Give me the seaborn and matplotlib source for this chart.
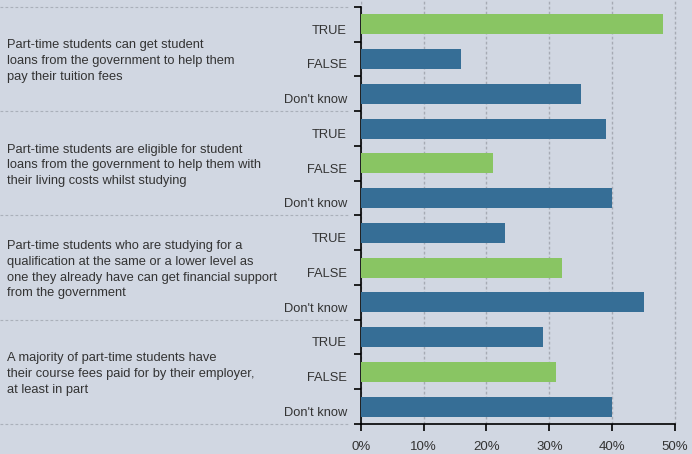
import matplotlib
matplotlib.use("Agg")
import matplotlib.pyplot as plt
import matplotlib.transforms as mtransforms
from matplotlib.ticker import FixedLocator, FuncFormatter
import seaborn as sns
import pandas as pd

# Survey statements (wrapped as displayed) and answer options
statements = [
    "Part-time students can get student\nloans from the government to help them\npay their tuition fees",
    "Part-time students are eligible for student\nloans from the government to help them with\ntheir living costs whilst studying",
    "Part-time students who are studying for a\nqualification at the same or a lower level as\none they already have can get financial support\nfrom the government",
    "A majority of part-time students have\ntheir course fees paid for by their employer,\nat least in part",
]
answers = ["TRUE", "FALSE", "Don't know"]

# Share of respondents (%) per statement: TRUE, FALSE, Don't know
true_pct = [48, 39, 23, 29]
false_pct = [16, 21, 32, 31]
dont_know_pct = [35, 40, 45, 40]

# Correct answer for each statement
correct_answer = ["TRUE", "FALSE", "FALSE", "FALSE"]

x_ticks = [0, 10, 20, 30, 40, 50]

BG = "#d1d7e2"
GREEN = "#89c563"
BLUE = "#366e96"
TEXT = "#333333"

rows = []
for i, stmt in enumerate(statements):
    vals = [true_pct[i], false_pct[i], dont_know_pct[i]]
    for ans, v in zip(answers, vals):
        rows.append({
            "row": f"{i}-{ans}",
            "answer": ans,
            "value": v,
            "kind": "correct" if ans == correct_answer[i] else "other",
        })
df = pd.DataFrame(rows)

sns.set_style("white")
plt.rcParams["font.family"] = ["Liberation Sans", "DejaVu Sans"]

fig = plt.figure(figsize=(6.92, 4.54), dpi=100, facecolor=BG)
ax = fig.add_axes([0.5213, 0.0661, 0.4570, 0.9339])
ax.set_facecolor(BG)

sns.barplot(
    data=df, x="value", y="row", hue="kind",
    palette={"correct": GREEN, "other": BLUE},
    dodge=False, width=0.58, orient="h", legend=False, ax=ax,
    saturation=1, linewidth=0, zorder=3,
)

n = len(df)
ax.set_ylim(n - 0.5, -0.7)
ax.set_xlim(0, 50.3)

# Vertical dashed grid
ax.xaxis.set_major_locator(FixedLocator(x_ticks))
ax.xaxis.set_major_formatter(FuncFormatter(lambda v, _: f"{v:.0f}%"))
ax.grid(axis="x", color="#a6aab4", linestyle=(0, (2, 1.6)), linewidth=1.0, zorder=0)
ax.grid(axis="y", visible=False)
ax.set_axisbelow(True)

# Boundary ticks on the left spine; answer labels sit just below each bar's centre
ax.yaxis.set_major_locator(FixedLocator([k - 0.5 for k in range(n + 1)]))
ax.set_yticklabels([])
ax.yaxis.set_minor_locator(FixedLocator([k + 0.14 for k in range(n)]))
ax.set_yticklabels(list(df["answer"]), minor=True)
ax.tick_params(axis="y", which="major", direction="out", length=5, width=1.2, color="black", left=True)
ax.tick_params(axis="y", which="minor", length=0, pad=10, labelsize=9.3, labelcolor=TEXT)
ax.tick_params(axis="x", which="major", direction="out", length=5, width=1.2, color="black",
               bottom=True, labelsize=9.5, labelcolor=TEXT, pad=7)
ax.set_xlabel("")
ax.set_ylabel("")

for side in ["top", "right"]:
    ax.spines[side].set_visible(False)
for side in ["left", "bottom"]:
    ax.spines[side].set_color("black")
    ax.spines[side].set_linewidth(1.2)
ax.spines["left"].set_bounds(n - 0.5, -0.5)
ax.spines["bottom"].set_bounds(0, 50)

# Group separators and statement text in the label column
trans = mtransforms.blended_transform_factory(fig.transFigure, ax.transData)
for g in range(len(statements) + 1):
    y = g * 3 - 0.5
    ax.plot([0.0, 350 / 692], [y, y], transform=trans, clip_on=False,
            color="#aab0ba", linestyle=(0, (2.5, 2)), linewidth=0.8)
for g, stmt in enumerate(statements):
    ax.text(7 / 692, g * 3 + 1.06, stmt, transform=trans, ha="left", va="center",
            fontsize=9.3, color=TEXT, linespacing=1.42)

fig.savefig("out.png", dpi=100, facecolor=BG)
